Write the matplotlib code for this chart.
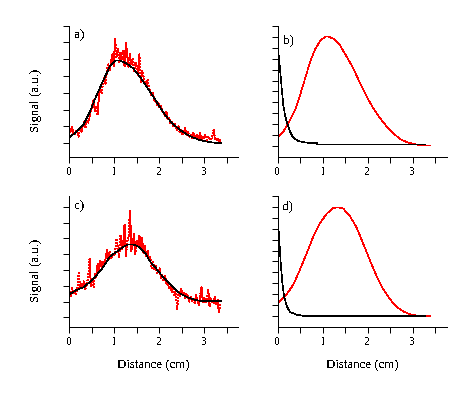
import numpy as np
import matplotlib
matplotlib.use('Agg')
import matplotlib.pyplot as plt
from matplotlib.ticker import MultipleLocator, NullFormatter, FormatStrFormatter

plt.rcParams['font.family'] = 'serif'
plt.rcParams['font.serif'] = ['Liberation Serif', 'DejaVu Serif']
plt.rcParams['text.antialiased'] = False

# --- panel a: measured signal (sampled every 0.03 cm) and fitted curve
a_step = 0.03
a_signal = [0.9, 0.7, 1.0, 0.6, 0.5, 0.8, 0.6, 0.4, 0.9, 0.7,
            1.0, 1.3, 0.9, 1.4, 1.2, 1.6, 1.9, 2.2, 2.6, 1.9,
            2.2, 1.7, 2.9, 3.3, 3.0, 3.6, 3.9, 3.5, 4.4, 4.7,
            4.3, 4.9, 5.3, 4.6, 6.2, 5.1, 5.6, 4.8, 5.4, 5.0,
            5.5, 4.6, 6.0, 5.2, 4.5, 5.3, 4.7, 5.0, 4.3, 4.8,
            4.6, 4.0, 5.3, 3.6, 4.3, 4.0, 3.7, 3.4, 3.8, 3.3,
            3.1, 2.8, 3.0, 2.5, 2.6, 2.3, 2.4, 2.1, 2.2, 1.9,
            1.8, 1.6, 1.9, 1.4, 1.5, 1.2, 1.3, 1.0, 1.2, 0.9,
            0.8, 1.0, 0.6, 0.8, 0.5, 0.6, 0.9, 0.5, 0.7, 0.4,
            0.5, 0.3, 0.6, 0.4, 0.3, 0.5, 0.3, 0.6, 0.2, 0.4,
            0.3, 0.5, 0.2, 0.4, 0.3, 0.2, 0.4, 0.8, 0.3, 0.2,
            0.3, 0.1, 0.2]
a_fit_x = [0.0, 0.16, 0.31, 0.46, 0.61, 0.76, 0.90, 1.02, 1.13, 1.27, 1.42, 1.57,
           1.72, 1.87, 2.02, 2.16, 2.31, 2.46, 2.61, 2.76, 2.90, 3.05, 3.20, 3.38]
a_fit_y = [0.35, 0.69, 1.09, 1.88, 2.88, 3.77, 4.56, 4.92, 4.92, 4.76, 4.46, 3.96,
           3.37, 2.77, 2.14, 1.58, 1.15, 0.79, 0.54, 0.33, 0.20, 0.10, 0.04, 0.0]

# --- panel b: decay (black) and profile (red)
b_black_x = [0.0, 0.051, 0.089, 0.125, 0.163, 0.20, 0.274, 0.347, 0.459, 0.646, 0.87, 0.88, 3.28]
b_black_y = [9.2, 7.09, 5.27, 3.75, 2.85, 2.24, 1.33, 0.78, 0.48, 0.33, 0.30, 0.18, 0.18]
b_red_x = [0.0, 0.126, 0.275, 0.386, 0.497, 0.609, 0.72, 0.83, 0.943, 1.054, 1.128, 1.24,
           1.388, 1.537, 1.685, 1.834, 1.982, 2.13, 2.28, 2.43, 2.576, 2.72, 2.87, 3.02,
           3.17, 3.39]
b_red_y = [0.87, 1.33, 2.39, 3.3, 4.66, 6.18, 7.69, 8.82, 9.6, 10.0, 10.0, 9.82,
           9.2, 8.15, 7.09, 5.73, 4.51, 3.45, 2.55, 1.78, 1.18, 0.66, 0.39, 0.21,
           0.09, 0.06]

# --- panel c: measured signal and fitted curve
c_step = 0.03
c_signal = [1.6, 1.3, 1.9, 1.5, 1.7, 1.4, 1.8, 2.9, 1.8, 2.2,
            1.9, 2.3, 1.8, 2.1, 2.6, 3.7, 2.0, 2.4, 1.9, 2.8,
            2.5, 3.4, 3.0, 3.6, 3.1, 3.5, 3.3, 3.8, 4.3, 3.6,
            4.2, 3.7, 4.0, 3.9, 4.1, 5.0, 4.4, 3.8, 5.2, 4.3,
            4.6, 5.9, 3.9, 4.8, 5.1, 6.8, 4.2, 4.6, 5.3, 4.0,
            4.9, 4.5, 5.2, 4.3, 5.0, 4.1, 4.6, 3.9, 4.2, 3.6,
            3.8, 3.1, 3.6, 3.0, 3.3, 2.8, 2.9, 3.1, 2.5, 2.7,
            2.3, 2.6, 2.1, 2.2, 1.8, 2.0, 1.6, 1.9, 1.4, 1.7,
            0.5, 1.6, 1.3, 1.8, 1.4, 1.6, 1.2, 1.5, 1.3, 1.0,
            1.3, 1.0, 1.2, 0.9, 1.4, 1.1, 0.8, 1.3, 1.9, 1.0,
            1.3, 0.9, 1.1, 1.8, 0.7, 1.2, 1.0, 0.9, 1.3, 0.8,
            1.1, 0.3, 0.9]
c_fit_x = [0.0, 0.16, 0.31, 0.46, 0.61, 0.76, 0.90, 1.05, 1.20, 1.31, 1.42, 1.57,
           1.72, 1.79, 1.87, 2.02, 2.16, 2.31, 2.46, 2.61, 2.76, 2.90, 3.05, 3.38]
c_fit_y = [1.46, 1.73, 1.90, 2.25, 2.68, 3.20, 3.84, 4.15, 4.47, 4.62, 4.62, 4.43,
           3.94, 3.56, 3.31, 2.78, 2.32, 1.90, 1.52, 1.30, 1.14, 1.05, 1.03, 1.03]

# --- panel d: decay (black) and profile (red)
d_black_x = [0.0, 0.029, 0.067, 0.103, 0.14, 0.20, 0.274, 0.42, 0.61, 3.28]
d_black_y = [8.96, 7.3, 4.87, 3.05, 1.85, 0.94, 0.39, 0.15, 0.02, 0.0]
d_red_x = [0.0, 0.2, 0.349, 0.497, 0.646, 0.794, 0.943, 1.09, 1.24, 1.35, 1.46, 1.61,
           1.76, 1.91, 2.06, 2.2, 2.35, 2.5, 2.65, 2.8, 2.95, 3.1, 3.39]
d_red_y = [1.18, 2.0, 2.9, 4.27, 5.76, 7.3, 8.5, 9.36, 9.88, 9.94, 9.82, 9.12,
           8.06, 6.54, 5.03, 3.66, 2.45, 1.54, 0.84, 0.42, 0.18, 0.06, 0.0]

W, H = 472, 397
LW = 0.45  # thin, aliased strokes like the original
fig = plt.figure(figsize=(W / 100, H / 100), dpi=100)


def make_axes(left, top, ylim, ntick):
    ax = fig.add_axes([left / W, 1 - (top + 131) / H, 169 / W, 131 / H])
    ax.set_xlim(0, 3.76)
    ax.set_ylim(*ylim)
    for s in ('top', 'right'):
        ax.spines[s].set_visible(False)
    for s in ('left', 'bottom'):
        ax.spines[s].set_linewidth(0.72)
        ax.spines[s].set_antialiased(False)
    ax.xaxis.set_major_locator(MultipleLocator(1))
    ax.xaxis.set_minor_locator(MultipleLocator(0.5))
    ax.xaxis.set_major_formatter(FormatStrFormatter('%d'))
    ax.set_yticks(np.arange(ntick))
    ax.yaxis.set_major_formatter(NullFormatter())
    ax.tick_params(axis='both', which='both', direction='out', length=4,
                   width=0.72, labelsize=8.5, pad=3)
    return ax


def label(ax, txt, y_px):
    ax.text(0.03, 1 - y_px / 131, txt, transform=ax.transAxes,
            fontsize=9.5, va='top', ha='left')


def noisy(ax, x, y):
    ax.plot(x, y, color='red', ls=(0, (1.6, 3.0)), lw=LW, antialiased=False)


def smooth(ax, x, y, color):
    ax.plot(x, y, color=color, lw=LW, antialiased=False)


ax_a = make_axes(69.3, 25.7, (-0.8, 7.0), 8)
ax_b = make_axes(277.7, 25.7, (-0.95, 11.0), 12)
ax_c = make_axes(69.3, 195.7, (-0.59, 7.7), 8)
ax_d = make_axes(277.7, 195.7, (-0.95, 11.0), 12)

noisy(ax_a, np.arange(len(a_signal)) * a_step, a_signal)
smooth(ax_a, a_fit_x, a_fit_y, 'black')

smooth(ax_b, b_red_x, b_red_y, 'red')
smooth(ax_b, b_black_x, b_black_y, 'black')

noisy(ax_c, np.arange(len(c_signal)) * c_step, c_signal)
smooth(ax_c, c_fit_x, c_fit_y, 'black')

smooth(ax_d, d_red_x, d_red_y, 'red')
smooth(ax_d, d_black_x, d_black_y, 'black')

label(ax_a, 'a)', 4)
label(ax_b, 'b)', 9)
label(ax_c, 'c)', 5)
label(ax_d, 'd)', 5)

for ax in (ax_a, ax_c):
    ax.set_ylabel('Signal (a.u.)', fontsize=9.3)
    ax.yaxis.set_label_coords(-0.163, 0.433)
for ax in (ax_c, ax_d):
    ax.set_xlabel('Distance (cm)', fontsize=9.3, labelpad=8)

fig.savefig('out.png', dpi=100)
